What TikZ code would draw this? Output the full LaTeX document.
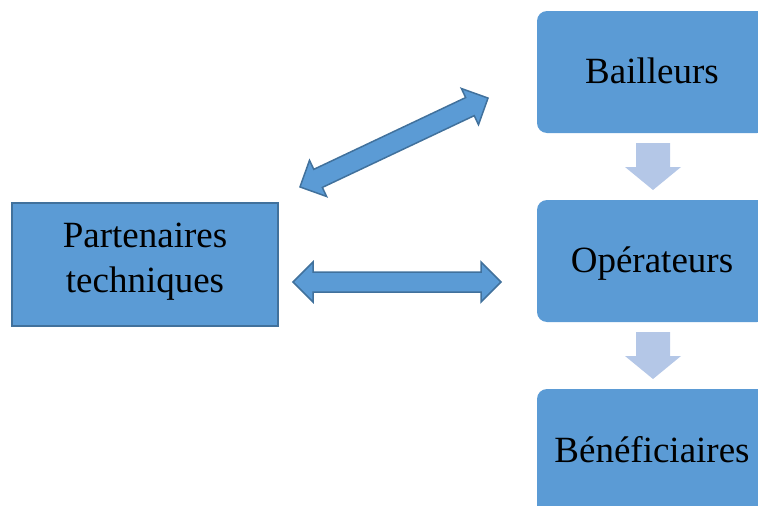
\documentclass[tikz,border=0pt]{standalone}
\usepackage{fontspec}
\setmainfont{Liberation Serif}
\definecolor{boxblue}{HTML}{5B9BD5}
\definecolor{edgeblue}{HTML}{41719C}
\definecolor{lightblue}{HTML}{B4C7E7}
\tikzset{
  rbox/.style={fill=boxblue, draw=none, rounded corners=10pt},
  textlbl/.style={font=\fontsize{37}{45}\selectfont, align=center, text=black, anchor=base, inner sep=0pt},
  pics/dblarrow/.style={code={
    \draw[fill=boxblue, draw=edgeblue, line width=1.5pt, line join=miter]
      (-104,0) -- (-84,-20) -- (-84,-10) -- (84,-10) -- (84,-20) -- (104,0)
      -- (84,20) -- (84,10) -- (-84,10) -- (-84,20) -- cycle;
  }},
  pics/downarrow/.style={code={
    \fill[lightblue] (-17,0) -- (17,0) -- (17,24) -- (28,24) -- (0,47) -- (-28,24) -- (-17,24) -- cycle;
  }}
}
\begin{document}
\begin{tikzpicture}[x=1pt,y=-1pt]
\useasboundingbox (0,0) rectangle (758,506);
\clip (0,0) rectangle (758,506);
% right column boxes
\fill[rbox] (537,11) rectangle (767,133);
\node[textlbl] (bail) at (652,83) {Bailleurs};
\fill[rbox] (537,200) rectangle (767,322);
\node[textlbl] (oper) at (652,272) {Opérateurs};
\fill[rbox] (537,389) rectangle (767,520);
\node[textlbl] (bene) at (652,462) {Bénéficiaires};
% left box
\draw[fill=boxblue, draw=edgeblue, line width=2pt] (12,203) rectangle (278,326);
\node[textlbl] (part) at (145,292) {Partenaires\\techniques};
% down arrows
\pic at (653,143) {downarrow};
\pic at (653,332) {downarrow};
% double arrows
\pic[rotate=25.3] at (394,142.5) {dblarrow};
\pic at (397,282) {dblarrow};
\end{tikzpicture}
\end{document}
